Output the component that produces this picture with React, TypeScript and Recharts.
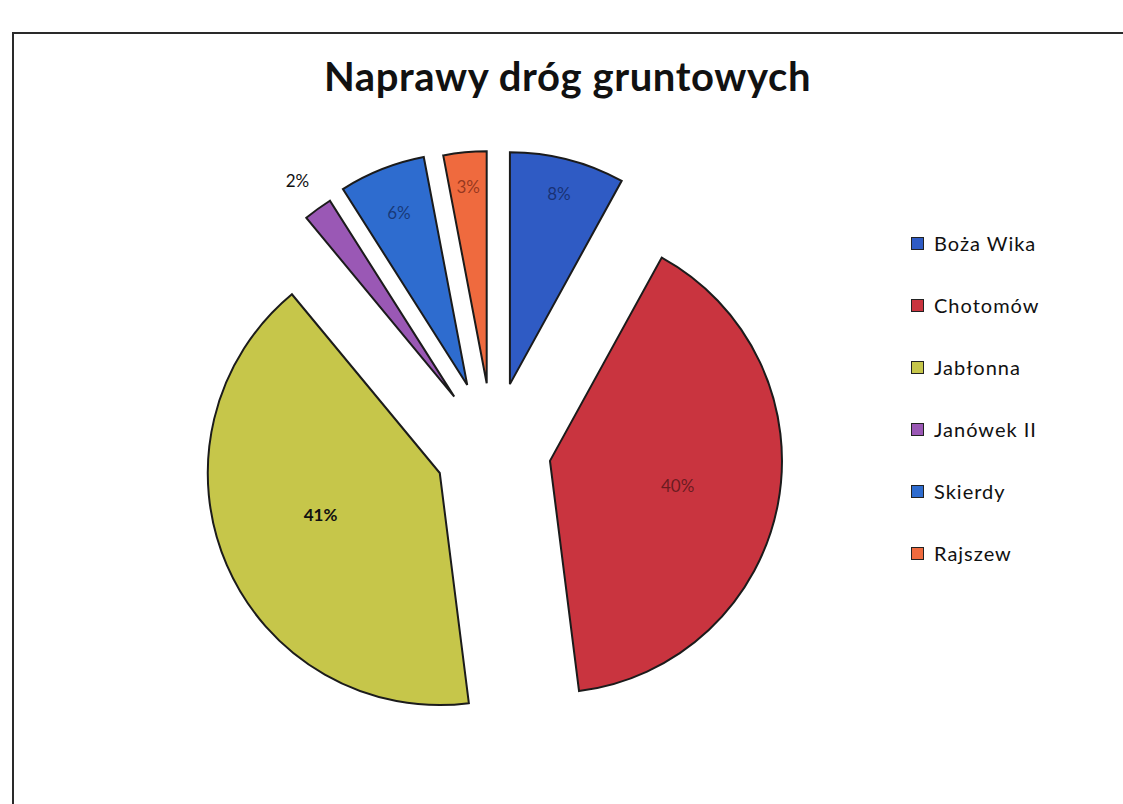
import { PieChart, Pie, Cell, Legend } from "recharts";

const VILLAGES = ["Boża Wika", "Chotomów", "Jabłonna", "Janówek II", "Skierdy", "Rajszew"];
const SHARES = [8, 40, 41, 2, 6, 3];
const COLORS = ["#2f5bc4", "#c9343f", "#c6c64a", "#9a58b5", "#2e6ccf", "#ef6a3e"];

const data = VILLAGES.map((name, i) => ({ name, value: SHARES[i] }));
const total = SHARES.reduce((a, b) => a + b, 0);

// layout of the exploded pie
const CX = 488;
const CY = 445;
const R = 232;
const EXPLODE = [68, 58, 58, 66, 70, 67];
const LABEL_AT = [0.85, 0.56, 0.56, 1.15, 0.8, 0.85];
const LABEL_FILL = ["rgba(10,20,60,0.6)", "rgba(40,10,10,0.6)", "#111", "#111", "rgba(10,20,60,0.6)", "rgba(90,20,10,0.6)"];
const RAD = Math.PI / 180;

// push each slice out along its own mid angle
const offsets = SHARES.map((v, i) => {
  const before = SHARES.slice(0, i).reduce((a, b) => a + b, 0);
  const theta = ((before + v / 2) / total) * 2 * Math.PI;
  return { dx: Math.sin(theta) * EXPLODE[i], dy: -Math.cos(theta) * EXPLODE[i] };
});

const sliceLabel = (k: number) => (props: any) => {
  const { cx, cy, midAngle, outerRadius, index, percent } = props;
  if (index !== k) return null;
  const r = outerRadius * LABEL_AT[k];
  const x = cx + r * Math.cos(-midAngle * RAD);
  const y = cy + r * Math.sin(-midAngle * RAD) - (k === 2 ? 10 : 0);
  return (
    <text
      x={x}
      y={y}
      textAnchor="middle"
      dominantBaseline="central"
      fill={LABEL_FILL[k]}
      fontFamily="Lato, sans-serif"
      fontSize={17}
      fontWeight={k === 2 ? 700 : 400}
    >
      {`${Math.round(percent * 100)}%`}
    </text>
  );
};

function LegendList() {
  return (
    <div style={{ fontFamily: "Lato, sans-serif", fontSize: 20, color: "#111" }}>
      {VILLAGES.map((name, i) => (
        <div key={name} style={{ display: "flex", alignItems: "center", height: 62 }}>
          <span
            style={{
              width: 11,
              height: 11,
              background: COLORS[i],
              border: "1px solid #222",
              marginRight: 10,
              display: "inline-block",
            }}
          />
          <span style={{ letterSpacing: 1 }}>{name}</span>
        </div>
      ))}
    </div>
  );
}

export default function App() {
  return (
    <div style={{ position: "absolute", left: 0, top: 0, width: 1123, height: 804, background: "#fff", overflow: "hidden" }}>
      <div
        style={{
          position: "absolute",
          left: 12,
          top: 32,
          width: 1120,
          height: 800,
          borderTop: "2px solid #2a2a2a",
          borderLeft: "2px solid #2a2a2a",
        }}
      />
      <div
        style={{
          position: "absolute",
          left: 0,
          width: 1123,
          top: 52,
          textAlign: "center",
          paddingLeft: 6,
          fontFamily: "Lato, sans-serif",
          fontWeight: 700,
          fontSize: 40,
          letterSpacing: 0.6,
          color: "#111",
        }}
      >
        Naprawy dróg gruntowych
      </div>
      <div style={{ position: "absolute", left: 0, top: 0 }}>
        <PieChart width={1123} height={804}>
          {SHARES.map((_, k) => (
            <Pie
              key={k}
              data={data}
              dataKey="value"
              nameKey="name"
              cx={CX + offsets[k].dx}
              cy={CY + offsets[k].dy}
              outerRadius={R}
              startAngle={90}
              endAngle={-270}
              isAnimationActive={false}
              label={sliceLabel(k)}
              labelLine={false}
            >
              {data.map((d, i) => (
                <Cell
                  key={d.name}
                  fill={i === k ? COLORS[i] : "none"}
                  stroke={i === k ? "#1b1b1b" : "none"}
                  strokeWidth={2}
                />
              ))}
            </Pie>
          ))}
          <Legend
            layout="vertical"
            align="right"
            verticalAlign="top"
            content={() => <LegendList />}
            wrapperStyle={{ left: 911, top: 212, width: 200 }}
          />
        </PieChart>
      </div>
    </div>
  );
}
